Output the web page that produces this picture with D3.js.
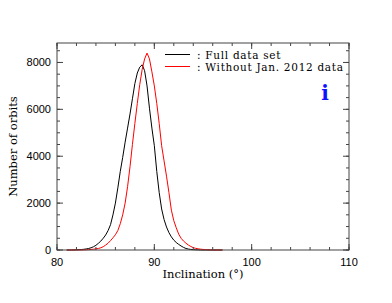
<!DOCTYPE html>
<html>
<head>
<meta charset="utf-8">
<script src="https://cdn.jsdelivr.net/npm/d3@7"></script>
<style>
	body { margin: 0; background: #fff; }
	svg { display: block; }
	.tick-label { font-family: "Liberation Sans", sans-serif; font-size: 11px; fill: #000; }
	.title { font-family: "DejaVu Serif", serif; font-size: 11.5px; fill: #000; }
	.legend-text { font-family: "DejaVu Serif", serif; font-size: 10.5px; letter-spacing: 0.7px; fill: #000; }
</style>
</head>
<body>
<svg id="chart" width="392" height="303"></svg>
<script>
'use strict';

// inclination bins (deg)
var inclination = [
	81.00, 81.25, 81.50, 81.75, 82.00, 82.25, 82.50, 82.75, 83.00, 83.25,
	83.50, 83.75, 84.00, 84.25, 84.50, 84.75, 85.00, 85.25, 85.50, 85.75,
	86.00, 86.25, 86.50, 86.75, 87.00, 87.25, 87.50, 87.75, 88.00, 88.25,
	88.50, 88.75, 89.00, 89.25, 89.50, 89.75, 90.00, 90.25, 90.50, 90.75,
	91.00, 91.25, 91.50, 91.75, 92.00, 92.25, 92.50, 92.75, 93.00, 93.25,
	93.50, 93.75, 94.00, 94.25, 94.50, 94.75, 95.00, 95.25, 95.50, 95.75,
	96.00, 96.50, 97.00
];

var fullData = [
	0, 0, 0, 5, 10, 15, 20, 30, 45, 65,
	95, 140, 200, 285, 380, 500, 640, 830, 1080, 1500,
	2000, 2650, 3350, 3950, 4600, 5200, 5800, 6450, 7100, 7550,
	7800, 7900, 7650, 7000, 6050, 5200, 4450, 3350, 2450, 1750,
	1300, 980, 740, 560, 420, 320, 240, 170, 110, 65,
	40, 25, 15, 10, 5, 0, 0, 0, 0, 0,
	0, 0, 0
];

var withoutJan2012 = [
	0, 0, 0, 0, 0, 0, 0, 5, 10, 15,
	25, 35, 50, 65, 95, 140, 210, 290, 400, 520,
	650, 830, 1120, 1500, 2000, 2700, 3550, 4500, 5400, 6250,
	7050, 7700, 8150, 8400, 8150, 7600, 7000, 6250, 5400, 4450,
	3800, 3150, 2450, 1700, 1250, 950, 680, 500, 380, 290,
	210, 150, 100, 70, 50, 35, 25, 15, 10, 5,
	0, 0, 0
];

var xTicks = [80, 90, 100, 110];
var yTicks = [0, 2000, 4000, 6000, 8000];
var legendLabels = [': Full data set', ': Without Jan. 2012 data'];
var seriesColors = ['#000', '#f00'];

var margin = { left: 57, top: 43, right: 43, bottom: 53 };
var svgWidth = 392;
var svgHeight = 303;
var plotW = svgWidth - margin.left - margin.right;
var plotH = svgHeight - margin.top - margin.bottom;

var svg = d3.select('#chart');
var g = svg.append('g')
	.attr('transform', 'translate(' + margin.left + ',' + margin.top + ')');

var x = d3.scaleLinear().domain([80, 110]).range([0, plotW]);
var y = d3.scaleLinear().domain([0, 8830]).range([plotH, 0]);

var frameColor = '#444';

function drawTicks(axis, scale, step, len, side) {
	var vals = d3.range(scale.domain()[0], scale.domain()[1] + 1e-6, step);
	vals.forEach(function(v) {
		var p = scale(v);
		var l = g.append('line').attr('stroke', frameColor).attr('stroke-width', 1);
		if (axis === 'x') {
			var y0 = side === 'bottom' ? plotH : 0;
			var dir = side === 'bottom' ? -1 : 1;
			l.attr('x1', p).attr('x2', p).attr('y1', y0).attr('y2', y0 + dir * len);
		} else {
			var x0 = side === 'left' ? 0 : plotW;
			var dir2 = side === 'left' ? 1 : -1;
			l.attr('y1', p).attr('y2', p).attr('x1', x0).attr('x2', x0 + dir2 * len);
		}
	});
}

// curves
var line = d3.line()
	.x(function(d) { return x(d[0]); })
	.y(function(d) { return y(d[1]); });

[fullData, withoutJan2012].forEach(function(series, i) {
	g.append('path')
		.datum(inclination.map(function(v, j) { return [v, series[j]]; }))
		.attr('d', line)
		.attr('fill', 'none')
		.attr('stroke', seriesColors[i])
		.attr('stroke-width', 1);
});

// frame + ticks on all sides
g.append('rect')
	.attr('x', 0).attr('y', 0)
	.attr('width', plotW).attr('height', plotH)
	.attr('fill', 'none')
	.attr('stroke', frameColor)
	.attr('stroke-width', 1);

['bottom', 'top'].forEach(function(side) {
	drawTicks('x', x, 2, 3, side);
	drawTicks('x', x, 10, 6, side);
});
['left', 'right'].forEach(function(side) {
	drawTicks('y', y, 500, 3, side);
	drawTicks('y', y, 2000, 6, side);
});

g.selectAll('.xlab')
	.data(xTicks)
	.enter()
	.append('text')
	.attr('class', 'tick-label')
	.attr('x', function(d) { return x(d); })
	.attr('y', plotH + 16)
	.attr('text-anchor', 'middle')
	.text(function(d) { return d; });

g.selectAll('.ylab')
	.data(yTicks)
	.enter()
	.append('text')
	.attr('class', 'tick-label')
	.attr('x', -6)
	.attr('y', function(d) { return y(d) + 4; })
	.attr('text-anchor', 'end')
	.text(function(d) { return d; });

// axis titles
g.append('text')
	.attr('class', 'title')
	.attr('x', plotW / 2)
	.attr('y', plotH + 28)
	.attr('text-anchor', 'middle')
	.text('Inclination (°)');

svg.append('text')
	.attr('class', 'title')
	.attr('transform', 'translate(17,' + (margin.top + plotH / 2) + ') rotate(-90)')
	.attr('text-anchor', 'middle')
	.text('Number of orbits');

// legend
var legend = svg.append('g').attr('transform', 'translate(165,54.5)');
legendLabels.forEach(function(lab, i) {
	legend.append('line')
		.attr('x1', 0).attr('x2', 25)
		.attr('y1', i * 12).attr('y2', i * 12)
		.attr('stroke', seriesColors[i])
		.attr('stroke-width', 1);
	legend.append('text')
		.attr('class', 'legend-text')
		.attr('x', 32)
		.attr('y', i * 12 + 4)
		.text(lab);
});

// info marker
svg.append('text')
	.attr('x', 325)
	.attr('y', 100)
	.attr('text-anchor', 'middle')
	.attr('font-family', 'DejaVu Serif, serif')
	.attr('font-weight', 'bold')
	.attr('font-size', '20px')
	.attr('fill', '#1010ff')
	.text('i');
</script>
</body>
</html>
